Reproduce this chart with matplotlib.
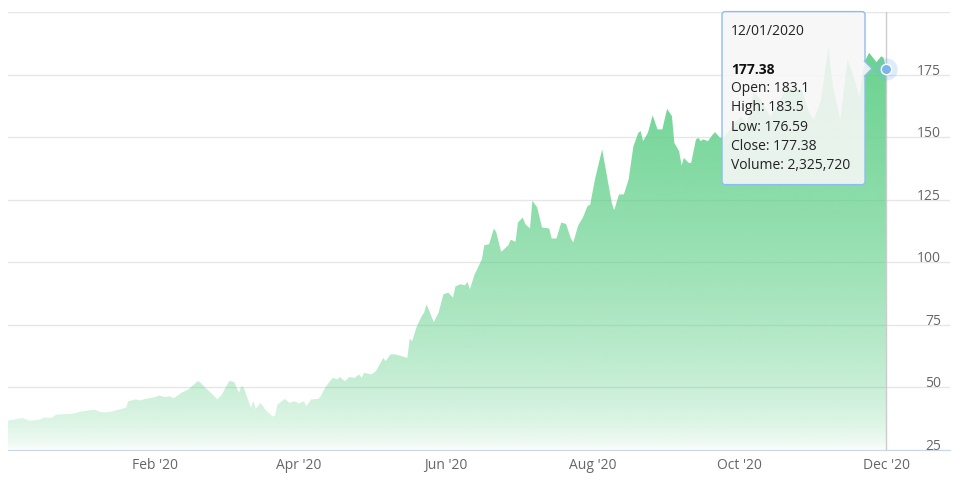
import numpy as np
import pandas as pd
import matplotlib
matplotlib.use('Agg')
import matplotlib.pyplot as plt
import matplotlib.dates as mdates
from matplotlib.patches import FancyBboxPatch, Polygon
from matplotlib.transforms import IdentityTransform

# daily closes (Dec 2019 - Dec 2020)
dates = [
    '2019-12-02', '2019-12-08', '2019-12-11', '2019-12-15', '2019-12-17', '2019-12-20',
    '2019-12-22', '2019-12-29', '2020-01-01', '2020-01-07', '2020-01-09', '2020-01-11',
    '2020-01-14', '2020-01-18', '2020-01-20', '2020-01-21', '2020-01-24', '2020-01-26',
    '2020-01-28', '2020-02-01', '2020-02-03', '2020-02-05', '2020-02-07', '2020-02-09',
    '2020-02-12', '2020-02-15', '2020-02-19', '2020-02-20', '2020-02-22', '2020-02-25',
    '2020-02-27', '2020-02-29', '2020-03-01', '2020-03-03', '2020-03-05', '2020-03-07',
    '2020-03-08', '2020-03-09', '2020-03-12', '2020-03-13', '2020-03-14', '2020-03-16',
    '2020-03-18', '2020-03-21', '2020-03-22', '2020-03-23', '2020-03-26', '2020-03-28',
    '2020-03-30', '2020-04-01', '2020-04-03', '2020-04-04', '2020-04-06', '2020-04-09',
    '2020-04-10', '2020-04-12', '2020-04-15', '2020-04-17', '2020-04-18', '2020-04-20',
    '2020-04-22', '2020-04-24', '2020-04-26', '2020-04-27', '2020-04-28', '2020-05-01',
    '2020-05-03', '2020-05-06', '2020-05-07', '2020-05-09', '2020-05-11', '2020-05-16',
    '2020-05-17', '2020-05-18', '2020-05-20', '2020-05-22', '2020-05-23', '2020-05-24',
    '2020-05-27', '2020-05-29', '2020-05-31', '2020-06-02', '2020-06-04', '2020-06-05',
    '2020-06-07', '2020-06-09', '2020-06-10', '2020-06-11', '2020-06-13', '2020-06-16',
    '2020-06-17', '2020-06-19', '2020-06-21', '2020-06-22', '2020-06-24', '2020-06-25',
    '2020-06-27', '2020-06-28', '2020-06-30', '2020-07-01', '2020-07-03', '2020-07-04',
    '2020-07-06', '2020-07-07', '2020-07-09', '2020-07-11', '2020-07-14', '2020-07-15',
    '2020-07-17', '2020-07-19', '2020-07-21', '2020-07-23', '2020-07-24', '2020-07-26',
    '2020-07-28', '2020-07-30', '2020-07-31', '2020-08-02', '2020-08-03', '2020-08-05',
    '2020-08-07', '2020-08-09', '2020-08-10', '2020-08-12', '2020-08-14', '2020-08-16',
    '2020-08-18', '2020-08-20', '2020-08-21', '2020-08-22', '2020-08-24', '2020-08-26',
    '2020-08-28', '2020-08-30', '2020-09-01', '2020-09-03', '2020-09-04', '2020-09-06',
    '2020-09-07', '2020-09-08', '2020-09-10', '2020-09-11', '2020-09-13', '2020-09-14',
    '2020-09-15', '2020-09-16', '2020-09-18', '2020-09-20', '2020-09-21', '2020-09-23',
    '2020-09-25', '2020-09-29', '2020-10-02', '2020-10-04', '2020-10-07', '2020-10-10',
    '2020-10-14', '2020-10-21', '2020-10-27', '2020-10-30', '2020-11-01', '2020-11-04',
    '2020-11-07', '2020-11-09', '2020-11-12', '2020-11-15', '2020-11-17', '2020-11-20',
    '2020-11-22', '2020-11-24', '2020-11-27', '2020-11-29', '2020-11-30', '2020-12-01',
]
closes = [
    36.7, 37.8, 36.7, 37.1, 38.0, 37.8,
    39.1, 39.5, 40.3, 41.1, 40.3, 40.0,
    40.3, 41.4, 41.8, 44.5, 45.2, 44.8,
    45.4, 46.1, 46.8, 46.1, 46.5, 45.7,
    47.8, 49.2, 52.6, 51.9, 49.9, 47.2,
    45.2, 47.2, 49.2, 52.6, 52.2, 47.8,
    50.5, 49.9, 41.8, 44.5, 41.4, 43.8,
    41.1, 38.4, 38.7, 43.1, 45.4, 43.8,
    44.5, 43.6, 44.5, 42.5, 45.2, 45.4,
    46.5, 50.2, 53.8, 53.2, 54.2, 52.5,
    54.2, 53.8, 55.2, 53.8, 55.8, 55.2,
    56.5, 61.8, 60.5, 63.2, 63.2, 61.8,
    69.5, 68.5, 74.5, 78.5, 79.9, 83.2,
    76.1, 79.9, 87.2, 87.9, 85.9, 90.3,
    91.2, 90.8, 92.2, 89.2, 95.2, 101.2,
    106.8, 107.2, 113.5, 111.9, 104.2, 105.0,
    106.8, 109.0, 108.2, 115.9, 117.9, 115.3,
    113.5, 124.6, 121.9, 113.9, 113.5, 109.5,
    109.5, 115.9, 115.3, 109.5, 107.9, 114.6,
    117.9, 122.6, 122.9, 133.1, 137.1, 145.1,
    134.4, 123.7, 120.8, 127.1, 127.1, 133.1,
    146.4, 151.7, 152.4, 148.4, 151.7, 158.7,
    153.1, 153.1, 161.3, 158.4, 147.7, 144.4,
    138.7, 141.7, 139.7, 139.7, 149.1, 149.7,
    148.4, 149.1, 148.4, 151.1, 152.0, 149.7,
    150.3, 155.8, 158.3, 154.3, 168.0, 165.0,
    158.0, 170.0, 169.0, 160.0, 157.0, 165.0,
    186.0, 170.0, 157.0, 181.0, 176.0, 166.0,
    180.0, 183.7, 180.0, 182.3, 181.7, 177.38,
]

tick_dates = ['2020-02-01', '2020-04-01', '2020-06-01', '2020-08-01', '2020-10-01', '2020-12-01']
tick_labels = ["Feb '20", "Apr '20", "Jun '20", "Aug '20", "Oct '20", "Dec '20"]
y_ticks = [25, 50, 75, 100, 125, 150, 175, 200]
y_labels = ['25', '50', '75', '100', '125', '150', '175', '']

tip_date = '12/01/2020'
tip_value = '177.38'
tip_lines = ['Open: 183.1', 'High: 183.5', 'Low: 176.59', 'Close: 177.38', 'Volume: 2,325,720']

plt.rcParams['font.family'] = ['Open Sans', 'DejaVu Sans']

W, H = 954, 480
fig = plt.figure(figsize=(W / 100, H / 100), dpi=100)
ax = fig.add_axes([8 / W, 30 / H, 942 / W, 438 / H])

x = mdates.date2num(pd.to_datetime(dates))
ymin, ymax = 25, 200

# gradient area: green on top fading to white
area = ax.fill_between(x, closes, ymin, color='none', lw=0)
t = np.linspace(1, 0, 400) ** 0.55
top = np.array([98, 208, 138]) / 255
grad = np.ones((400, 1, 4))
grad[:, 0, :3] = top
grad[:, 0, 3] = t
im = ax.imshow(grad, extent=[x[0], x[-1], ymin, ymax], aspect='auto',
               origin='upper', zorder=2, interpolation='bilinear')
im.set_clip_path(area.get_paths()[0], transform=ax.transData)
ax.set_xlim(x[0], x[-1] + 26.6)
ax.set_ylim(ymin, ymax)

# axes styling
for s in ['top', 'left', 'right']:
    ax.spines[s].set_visible(False)
ax.spines['bottom'].set_color('#ccd6eb')
ax.spines['bottom'].set_zorder(3)
ax.set_yticks(y_ticks, y_labels)
ax.yaxis.tick_right()
ax.grid(axis='y', color='#e6e6e6', lw=1)
ax.set_axisbelow(True)
ax.tick_params(axis='y', length=0, pad=-6.5, labelsize=10, labelcolor='#666666')
for lab in ax.get_yticklabels():
    lab.set_horizontalalignment('right')
    lab.set_verticalalignment('baseline')
ax.set_xticks(mdates.date2num(pd.to_datetime(tick_dates)), tick_labels)
ax.tick_params(axis='x', length=0, pad=6, labelsize=10, labelcolor='#666666')

# crosshair and hovered point
ax.axvline(x[-1], color='#cccccc', lw=1, zorder=4)
ax.plot(x[-1], closes[-1], 'o', ms=16, color='#7cb5ec', alpha=0.25, mec='none', zorder=5)
ax.plot(x[-1], closes[-1], 'o', ms=7.5, color='#7cb5ec', mec='white', mew=1, zorder=6)

# tooltip
fig.canvas.draw()
px, py = ax.transData.transform((x[-1], closes[-1]))
left, right = px - 164, px - 21
top_y, bot_y = py + 57, py - 116
ident = IdentityTransform()
tip_fc = (0.97, 0.97, 0.97, 0.88)
box = FancyBboxPatch((left, bot_y), right - left, top_y - bot_y,
                     boxstyle='round,pad=0,rounding_size=3', transform=ident,
                     fc=tip_fc, ec='#8cbdf0', lw=1, zorder=10)
fig.patches.append(box)
arrow = Polygon([(right - 1, py + 8), (right + 7, py), (right - 1, py - 8)], closed=False,
                transform=ident, fc=tip_fc, ec='#8cbdf0', lw=1, zorder=11)
fig.patches.append(arrow)

tx = left + 9
fig.text(tx, py + 37, tip_date, transform=ident, fontsize=10, color='#222222',
         va='center', zorder=12)
fig.text(tx, py - 1, tip_value, transform=ident, fontsize=10, color='#111111',
         va='center', fontweight='bold', zorder=12)
for i, line in enumerate(tip_lines):
    fig.text(tx, py - 20 - i * 19.2, line, transform=ident, fontsize=10,
             color='#222222', va='center', zorder=12)

fig.savefig('out.png', dpi=100)
